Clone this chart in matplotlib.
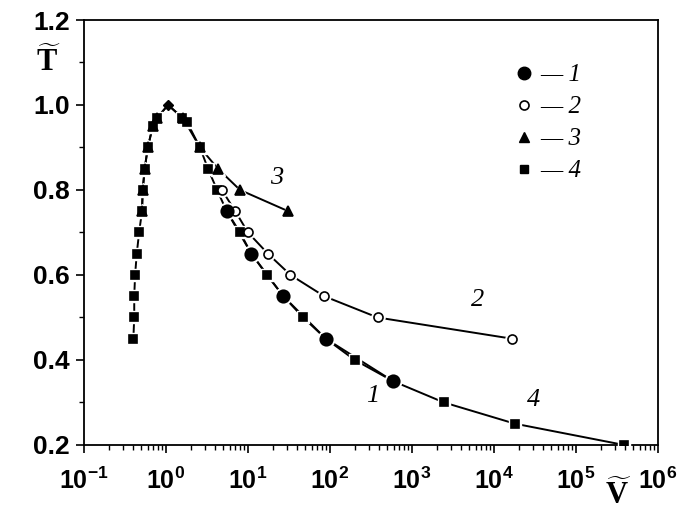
import numpy as np
import matplotlib
matplotlib.use("Agg")
import matplotlib.pyplot as plt
from matplotlib.lines import Line2D
from matplotlib.ticker import MultipleLocator, LogLocator, FixedLocator, FormatStrFormatter

plt.rcParams['font.family'] = ['Liberation Sans', 'DejaVu Sans']
plt.rcParams['mathtext.fontset'] = 'custom'
plt.rcParams['mathtext.rm'] = 'Liberation Sans:bold'
plt.rcParams['mathtext.bf'] = 'Liberation Serif:bold'
plt.rcParams['axes.unicode_minus'] = False

# curve 4 (squares): full curve, left branch + peak + right branch
v4 = [0.40, 0.41, 0.41, 0.42, 0.44, 0.47, 0.51, 0.52, 0.55, 0.60, 0.69, 0.78,
      1.06, 1.57, 1.8, 2.6, 3.25, 4.2, 5.5, 8, 11, 17, 27, 47, 89, 200, 590,
      2450, 18000, 385000]
t4 = [0.45, 0.50, 0.55, 0.60, 0.65, 0.70, 0.75, 0.80, 0.85, 0.90, 0.95, 0.97,
      1.00, 0.97, 0.96, 0.90, 0.85, 0.80, 0.75, 0.70, 0.65, 0.60, 0.55, 0.50,
      0.45, 0.40, 0.35, 0.30, 0.25, 0.20]
peak_idx = 12

# curve 3 (triangles)
v3 = [0.51, 0.52, 0.55, 0.60, 0.69, 0.78, 1.06, 1.6, 2.6, 4.3, 8, 31]
t3 = [0.75, 0.80, 0.85, 0.90, 0.95, 0.97, 1.00, 0.97, 0.90, 0.85, 0.80, 0.75]

# curve 2 (open circles)
v2 = [4.8, 7, 10, 17.5, 33, 85, 380, 16600]
t2 = [0.80, 0.75, 0.70, 0.65, 0.60, 0.55, 0.50, 0.45]

# curve 1 (filled circles)
v1 = [5.5, 11, 27, 89, 590]
t1 = [0.75, 0.65, 0.55, 0.45, 0.35]

curve_labels = ['1', '2', '3', '4']
label_v = [330, 6300, 22.6, 30000]
label_t = [0.315, 0.541, 0.828, 0.306]

x_decades = np.arange(-1, 7)

fig = plt.figure(figsize=(6.79, 5.21), dpi=100)
ax = fig.add_axes([0.1237, 0.146, 0.8453, 0.8156])

lw = 1.4
series = [
    (v4, t4, 's', 5.5, 'k', [i for i in range(len(v4)) if i != peak_idx]),
    (v3, t3, '^', 7, 'k', [i for i in range(len(v3)) if i != 6]),
    (v2, t2, 'o', 6.5, 'white', None),
    (v1, t1, 'o', 9, 'k', None),
]
for v, t, m, ms, fc, every in series:
    ax.plot(v, t, '-', color='k', lw=lw, zorder=2)
    ax.plot(v, t, ls='none', marker=m, ms=ms + 3, mfc='white', mec='white',
            markevery=every, zorder=3)
for v, t, m, ms, fc, every in series:
    ax.plot(v, t, ls='none', marker=m, ms=ms, mfc=fc, mec='k', mew=1.2,
            markevery=every, zorder=4)

# shared peak point
ax.plot([v4[peak_idx]], [t4[peak_idx]], ls='none', marker='D', ms=5.5,
        color='k', zorder=4)

for lab, lv, lt in zip(curve_labels, label_v, label_t):
    ax.text(lv, lt, lab, family='Liberation Serif', style='italic',
            fontsize=19, ha='center', va='center')

ax.set_xscale('log')
ax.set_xlim(0.1, 1e6)
ax.set_ylim(0.2, 1.2)
ax.xaxis.set_major_locator(FixedLocator(10.0 ** x_decades))
ax.xaxis.set_minor_locator(LogLocator(base=10, subs=np.arange(2, 10), numticks=20))
ax.set_xticklabels([r'$\mathdefault{10^{%d}}$' % d for d in x_decades])
ax.yaxis.set_major_locator(MultipleLocator(0.2))
ax.yaxis.set_minor_locator(MultipleLocator(0.1))
ax.yaxis.set_major_formatter(FormatStrFormatter('%.1f'))
ax.tick_params(which='major', direction='out', length=6, width=1.2,
               labelsize=19, pad=4)
ax.tick_params(axis='x', which='major', labelsize=18, pad=10)
ax.tick_params(which='minor', direction='out', length=3.5, width=1)
for lab in ax.get_xticklabels() + ax.get_yticklabels():
    lab.set_fontweight('bold')
for s in ax.spines.values():
    s.set_linewidth(1.3)

# legend
handles = [
    Line2D([], [], ls='none', marker='o', ms=9, color='k'),
    Line2D([], [], ls='none', marker='o', ms=6.5, mfc='white', mec='k', mew=1.2),
    Line2D([], [], ls='none', marker='^', ms=7, color='k'),
    Line2D([], [], ls='none', marker='s', ms=5.5, color='k'),
]
ax.legend(handles, ['\u2014 ' + c for c in curve_labels], loc='upper left',
          bbox_to_anchor=(0.706, 0.95), frameon=False, handlelength=1.0,
          handletextpad=0.15, labelspacing=0.38,
          prop={'family': 'Liberation Serif', 'style': 'italic', 'size': 18})

fig.text(48 / 679, 1 - 62 / 521, r'$\mathbf{\widetilde{T}}$', fontsize=22,
         ha='center', va='center')
fig.text(618 / 679, 1 - 495 / 521, r'$\mathbf{\widetilde{V}}$', fontsize=22,
         ha='center', va='center')

fig.savefig('out.png', dpi=100)
